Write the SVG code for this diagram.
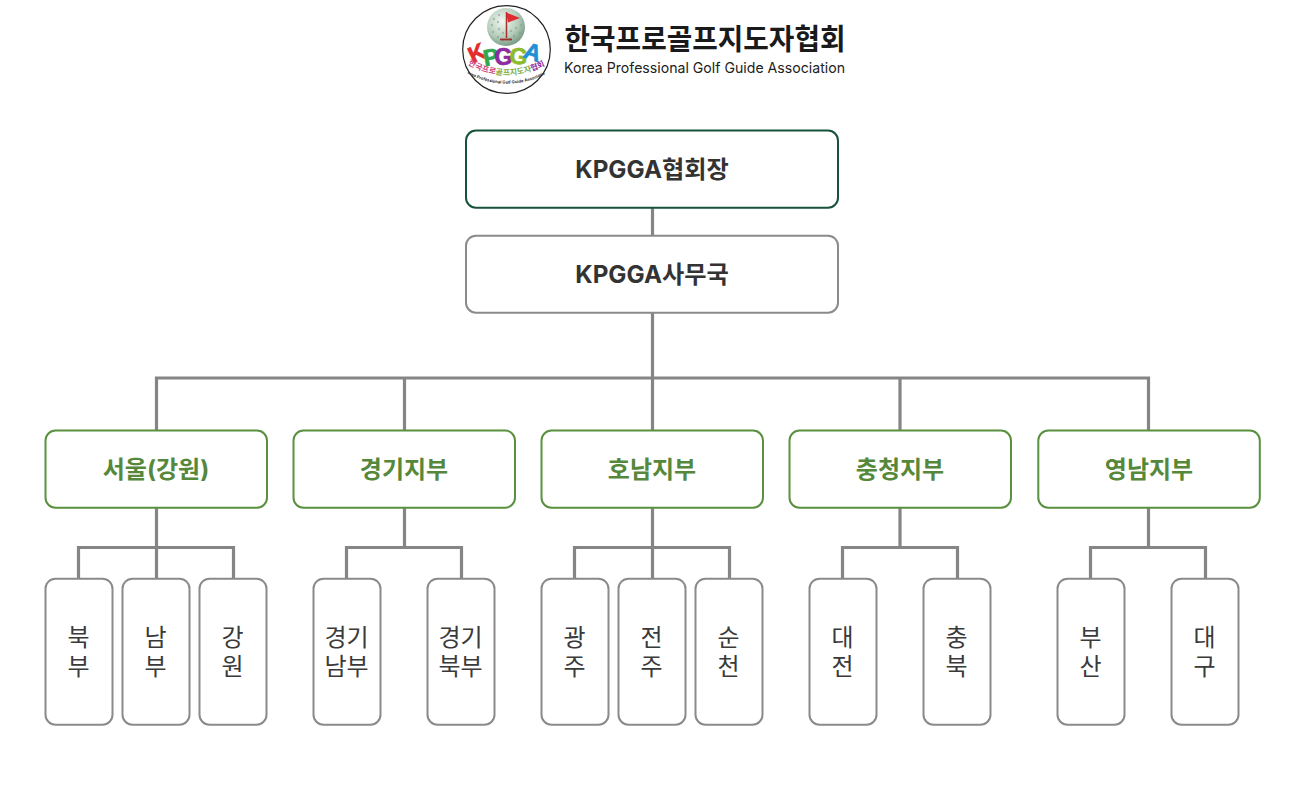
<svg xmlns="http://www.w3.org/2000/svg" width="1304" height="808" viewBox="0 0 1304 808">
<style>
text{font-family:"Inter","Noto Sans CJK KR",sans-serif;text-anchor:middle}
.kr{font-family:"Noto Sans CJK KR",sans-serif}
rect{fill:#fff;stroke-width:2}
.top{stroke:#17533a}
.gray{stroke:#8a8a8a}
.green{stroke:#5a9140}
.t1{font-size:24.200px;font-weight:700;fill:#333}
.t2{font-size:24px;font-weight:700;fill:#55883b}
.t3{font-size:24px;font-weight:400;fill:#3a3a3a}
.lg{font-family:"Liberation Sans",sans-serif;font-size:23px;font-weight:700;stroke-width:.7}
.conn path{fill:none;stroke:#858585;stroke-width:3.200}
.dim{fill:#7fa08c;opacity:.55}
</style>
<defs>
<radialGradient id="ball" cx="40%" cy="35%" r="70%"><stop offset="0" stop-color="#f2f6f1"/><stop offset=".6" stop-color="#b7cdbb"/><stop offset="1" stop-color="#6f9580"/></radialGradient>
</defs>
<rect width="1304" height="808" style="stroke:none"/>
<g id="logo">
<circle cx="506.500" cy="49.500" r="43.800" fill="#fff" stroke="#222" stroke-width="1.200"/>
<circle cx="506" cy="27" r="19" fill="url(#ball)"/>
<g class="dim"><circle cx="494" cy="19" r="1.200"/><circle cx="499" cy="15" r="1.200"/><circle cx="492" cy="25" r="1.200"/><circle cx="498" cy="22" r="1.200"/><circle cx="493" cy="32" r="1.200"/><circle cx="499" cy="29" r="1.200"/><circle cx="498" cy="37" r="1.200"/><circle cx="503" cy="41" r="1.200"/><circle cx="511" cy="31" r="1.200"/><circle cx="516" cy="28" r="1.200"/><circle cx="514" cy="36" r="1.200"/><circle cx="520" cy="33" r="1.200"/><circle cx="521" cy="25" r="1.200"/><circle cx="510" cy="39" r="1.200"/><circle cx="503" cy="33" r="1.200"/></g>
<path d="M506.500 12V38" stroke="#a5302e" stroke-width="1.500"/>
<path d="M506 12.500L520 18L508 22.500Z" fill="#e12a2f"/>
<path d="M500 39.500H512" stroke="#9c2f2a" stroke-width="1.800"/>
<text class="lg" x="477" y="61" fill="#e32b2b" stroke="#e32b2b" transform="rotate(-25 477 53)">K</text>
<text class="lg" x="491" y="65" fill="#2fa84f" stroke="#2fa84f" transform="rotate(-10 491 57)">P</text>
<text class="lg" x="503.500" y="65" fill="#8e2c9f" stroke="#8e2c9f">G</text>
<text class="lg" x="518.500" y="64" fill="#8dbb2d" stroke="#8dbb2d" transform="rotate(5 518 57)">G</text>
<text class="lg" x="533" y="60" fill="#1f8fd6" stroke="#1f8fd6" transform="rotate(18 533 52)">A</text>
<path id="arc1" d="M465 63Q506 87 548 64" fill="none"/>
<path id="arc2" d="M468 74Q506 93 544 75" fill="none"/>
<text font-size="8" font-weight="700" fill="#d0457a"><textPath href="#arc1" startOffset="50%">한국프로<tspan fill="#7fae3f">골프지도자</tspan><tspan fill="#8e2c9f">협회</tspan></textPath></text>
<text font-size="4.200" font-weight="700" fill="#333"><textPath href="#arc2" startOffset="50%">Korea Professional Golf Guide Association</textPath></text>
</g>
<g id="title">
<text class="kr" x="705" y="50" font-size="29" font-weight="700" fill="#1a1a1a" textLength="281" lengthAdjust="spacingAndGlyphs">한국프로골프지도자협회</text>
<text x="704.500" y="73" font-size="14.500" fill="#222" textLength="281" lengthAdjust="spacingAndGlyphs">Korea Professional Golf Guide Association</text>
</g>
<g class="conn" id="connectors">
<path d="M652.500 208V235M652.500 313V431M156.500 431V378H1148.500V431M404.500 378V431M900 378V431"/>
<path d="M156.500 508V579M78.500 579V547.500H233.500V579"/>
<path d="M404.500 508V547.500M346.500 579V547.500H461.500V579"/>
<path d="M652.500 508V579M574.500 579V547.500H729.500V579"/>
<path d="M900 508V547.500M842.500 579V547.500H957.500V579"/>
<path d="M1148.500 508V547.500M1090.500 579V547.500H1205.500V579"/>
</g>
<g id="n-president"><rect class="top" x="466" y="130.500" width="372" height="77.200" rx="10"/><text class="t1" x="652" y="178">KPGGA협회장</text></g>
<g id="n-office"><rect class="gray" x="466" y="235.700" width="372" height="77" rx="10"/><text class="t1" x="652" y="283">KPGGA사무국</text></g>
<g id="n-seoul"><rect class="green" x="45.500" y="430.500" width="221.500" height="77.200" rx="10"/><text class="t2" x="156" y="478">서울(강원)</text></g>
<g id="n-gyeonggi"><rect class="green" x="293.500" y="430.500" width="221.500" height="77.200" rx="10"/><text class="t2" x="404" y="478">경기지부</text></g>
<g id="n-honam"><rect class="green" x="541.500" y="430.500" width="221.500" height="77.200" rx="10"/><text class="t2" x="652" y="478">호남지부</text></g>
<g id="n-chungcheong"><rect class="green" x="789.500" y="430.500" width="221.500" height="77.200" rx="10"/><text class="t2" x="900" y="478">충청지부</text></g>
<g id="n-yeongnam"><rect class="green" x="1038.300" y="430.500" width="221.500" height="77.200" rx="10"/><text class="t2" x="1149" y="478">영남지부</text></g>
<g id="l1"><rect class="gray" x="45.500" y="578.700" width="67" height="146" rx="10"/><text class="t3" x="78.500" y="646">북</text><text class="t3" x="78.500" y="675">부</text></g>
<g id="l2"><rect class="gray" x="122.500" y="578.700" width="67" height="146" rx="10"/><text class="t3" x="155.500" y="646">남</text><text class="t3" x="155.500" y="675">부</text></g>
<g id="l3"><rect class="gray" x="199.500" y="578.700" width="67" height="146" rx="10"/><text class="t3" x="232.500" y="646">강</text><text class="t3" x="232.500" y="675">원</text></g>
<g id="l4"><rect class="gray" x="313.500" y="578.700" width="67" height="146" rx="10"/><text class="t3" x="346.500" y="646">경기</text><text class="t3" x="346.500" y="675">남부</text></g>
<g id="l5"><rect class="gray" x="427.500" y="578.700" width="67" height="146" rx="10"/><text class="t3" x="460.500" y="646">경기</text><text class="t3" x="460.500" y="675">북부</text></g>
<g id="l6"><rect class="gray" x="541.500" y="578.700" width="67" height="146" rx="10"/><text class="t3" x="574.500" y="646">광</text><text class="t3" x="574.500" y="675">주</text></g>
<g id="l7"><rect class="gray" x="618.500" y="578.700" width="67" height="146" rx="10"/><text class="t3" x="651.500" y="646">전</text><text class="t3" x="651.500" y="675">주</text></g>
<g id="l8"><rect class="gray" x="695.500" y="578.700" width="67" height="146" rx="10"/><text class="t3" x="728.500" y="646">순</text><text class="t3" x="728.500" y="675">천</text></g>
<g id="l9"><rect class="gray" x="809.500" y="578.700" width="67" height="146" rx="10"/><text class="t3" x="842.500" y="646">대</text><text class="t3" x="842.500" y="675">전</text></g>
<g id="l10"><rect class="gray" x="923.500" y="578.700" width="67" height="146" rx="10"/><text class="t3" x="956.500" y="646">충</text><text class="t3" x="956.500" y="675">북</text></g>
<g id="l11"><rect class="gray" x="1057.500" y="578.700" width="67" height="146" rx="10"/><text class="t3" x="1090.500" y="646">부</text><text class="t3" x="1090.500" y="675">산</text></g>
<g id="l12"><rect class="gray" x="1171.500" y="578.700" width="67" height="146" rx="10"/><text class="t3" x="1204.500" y="646">대</text><text class="t3" x="1204.500" y="675">구</text></g>
</svg>
